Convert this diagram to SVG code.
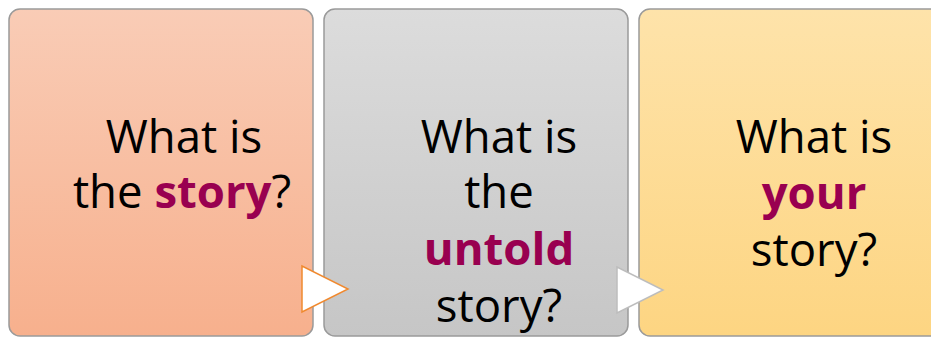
<svg xmlns="http://www.w3.org/2000/svg" width="931" height="338" viewBox="0 0 931 338">
<defs>
<linearGradient id="g1" x1="0" y1="0" x2="0" y2="1"><stop offset="0" stop-color="#F9CCB6"/><stop offset="1" stop-color="#F7B08D"/></linearGradient>
<linearGradient id="g2" x1="0" y1="0" x2="0" y2="1"><stop offset="0" stop-color="#DCDCDC"/><stop offset="1" stop-color="#C6C6C6"/></linearGradient>
<linearGradient id="g3" x1="0" y1="0" x2="0" y2="1"><stop offset="0" stop-color="#FEE3AA"/><stop offset="1" stop-color="#FDD582"/></linearGradient>
</defs>
<style>
.box{stroke:#9A9A9A;stroke-width:1.5}
.t{font-family:"Open Sans","Liberation Sans",sans-serif;font-size:45.5px;fill:#000;text-anchor:middle}
.b{font-weight:bold;fill:#990050}
</style>
<rect width="931" height="338" fill="#FFFFFF"/>
<g id="node1">
<rect class="box" x="9" y="9" width="304" height="327" rx="11" fill="url(#g1)"/>
<text class="t" x="184" y="153">What is</text>
<text class="t" x="182" y="208">the <tspan class="b">story</tspan>?</text>
</g>
<g id="node2">
<rect class="box" x="324" y="9" width="304" height="327" rx="11" fill="url(#g2)"/>
<text class="t" x="499" y="153">What is</text>
<text class="t" x="499" y="208">the</text>
<text class="t b" x="499" y="265">untold</text>
<text class="t" x="499" y="322">story?</text>
</g>
<g id="node3">
<rect class="box" x="639" y="9" width="310" height="327" rx="11" fill="url(#g3)"/>
<text class="t" x="814" y="153">What is</text>
<text class="t b" x="814" y="209">your</text>
<text class="t" x="814" y="266">story?</text>
</g>
<g id="connectors">
<polygon points="302,266 302,312 348,289" fill="#FFFFFF" stroke="#F08A30" stroke-width="1.5"/>
<polygon points="617,267 617,313 663,290" fill="#FFFFFF" stroke="#BDBDBD" stroke-width="1.5"/>
</g>
</svg>
